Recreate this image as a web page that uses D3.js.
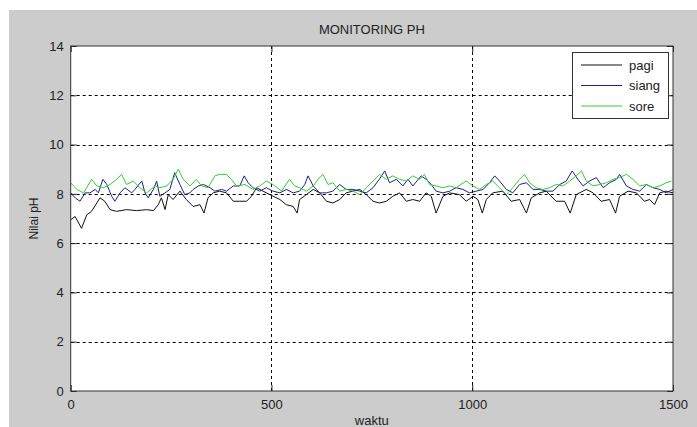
<!DOCTYPE html>
<html>
<head>
<meta charset="utf-8">
<script src="https://cdn.jsdelivr.net/npm/d3@7"></script>
<style>
  html, body { margin: 0; padding: 0; background: #fff; }
  svg { display: block; font-family: "Liberation Sans", Arial, sans-serif; }
</style>
</head>
<body>
<div id="chart"></div>
<script>
// grafik monitoring pH: pagi, siang, sore
const xTicks = [0, 500, 1000, 1500];
const yTicks = [0, 2, 4, 6, 8, 10, 12, 14];
const seriesNames = ["pagi", "siang", "sore"];

const pagiT = [0, 11, 27, 40, 52, 65, 73, 85, 98, 114, 139, 164, 189, 206, 218, 226, 235, 243, 255, 272, 288, 305, 322, 332, 342, 355, 371, 388, 405, 421, 438, 450, 463, 479, 496, 521, 537, 554, 564, 570, 587, 604, 620, 637, 653, 670, 686, 703, 720, 736, 753, 769,
  786, 802, 819, 836, 852, 869, 885, 898, 910, 927, 944, 968, 985, 1002, 1014, 1025, 1035, 1051, 1076, 1097, 1118, 1135, 1147, 1168, 1184, 1209, 1230, 1244, 1259, 1284, 1301, 1321, 1342, 1357, 1367, 1388, 1409, 1429, 1442, 1454, 1467, 1483, 1500];
const pagiPH = [6.95, 7.08, 6.60, 7.15, 7.29, 7.63, 7.84, 7.70, 7.36, 7.29, 7.36, 7.32, 7.36, 7.32, 7.56, 7.84, 7.36, 7.97, 7.77, 8.11, 7.77, 7.49, 7.56, 7.22, 7.84, 8.04, 8.11, 8.04, 7.70, 7.70, 7.70, 7.90, 8.25, 8.11, 7.97, 7.77, 7.56, 7.49, 7.22, 7.77, 7.97, 8.18, 8.04, 7.70, 7.63, 7.77, 8.04, 8.11, 8.18, 7.97, 7.70, 7.63,
  7.70, 7.90, 8.04, 7.70, 7.77, 7.70, 8.04, 7.90, 7.22, 7.90, 8.04, 7.97, 7.70, 7.90, 7.77, 7.22, 7.77, 8.04, 8.11, 7.70, 7.77, 7.22, 7.84, 8.04, 8.11, 7.70, 7.70, 7.22, 7.97, 8.18, 8.04, 7.70, 7.77, 7.22, 7.90, 8.11, 8.04, 7.70, 7.77, 7.56, 8.04, 8.11, 8.04];

const siangT = [0, 11, 23, 36, 48, 61, 69, 80, 90, 102, 110, 123, 135, 152, 160, 177, 185, 193, 206, 214, 222, 235, 247, 259, 272, 284, 297, 305, 318, 330, 347, 359, 376, 388, 405, 421, 432, 442, 454, 471, 487, 504, 521, 537, 554, 570, 583, 591, 604, 620, 637, 653, 670, 686, 703, 720, 736, 753, 769,
  782, 794, 811, 827, 840, 852, 873, 885, 898, 910, 927, 944, 960, 977, 993, 1010, 1027, 1043, 1056, 1068, 1085, 1101, 1118, 1135, 1151, 1168, 1184, 1201, 1218, 1234, 1249, 1263, 1276, 1292, 1309, 1326, 1342, 1359, 1367, 1384, 1400, 1417, 1434, 1450, 1467, 1483, 1500];
const siangPH = [8.04, 7.84, 7.70, 8.04, 8.04, 8.18, 8.04, 8.59, 8.38, 7.90, 7.70, 8.04, 8.25, 8.04, 8.18, 8.52, 8.04, 7.84, 8.18, 8.52, 7.90, 8.04, 8.18, 8.86, 8.38, 7.97, 8.04, 8.18, 8.32, 8.38, 8.25, 8.11, 8.18, 8.11, 8.32, 8.32, 8.73, 8.45, 8.25, 8.11, 8.25, 8.11, 8.04, 8.18, 8.04, 8.11, 8.38, 8.73, 8.32, 8.04, 8.04, 8.11, 8.38, 8.18, 8.18, 8.11, 8.04, 8.25, 8.60,
  8.93, 8.45, 8.59, 8.32, 8.59, 8.32, 8.73, 8.59, 8.38, 8.11, 8.04, 8.11, 8.25, 8.18, 8.04, 8.11, 8.18, 8.45, 8.73, 8.52, 8.18, 8.04, 8.38, 8.45, 8.18, 8.18, 8.11, 8.11, 8.38, 8.52, 8.93, 8.59, 8.32, 8.52, 8.66, 8.25, 8.45, 8.59, 8.79, 8.32, 8.18, 8.11, 8.38, 8.25, 8.18, 8.04, 8.18];

const soreT = [0, 15, 32, 52, 65, 81, 98, 114, 127, 139, 156, 172, 189, 210, 222, 239, 255, 268, 280, 297, 313, 326, 342, 359, 371, 388, 400, 413, 434, 454, 471, 487, 504, 525, 545, 558, 570, 587, 604, 616, 628, 641, 653, 670, 686, 703, 720, 736, 753, 769,
  786, 802, 819, 836, 852, 869, 881, 894, 910, 927, 944, 960, 985, 1002, 1018, 1035, 1051, 1068, 1085, 1101, 1118, 1130, 1143, 1159, 1176, 1193, 1209, 1226, 1243, 1259, 1272, 1284, 1301, 1317, 1334, 1351, 1367, 1384, 1400, 1417, 1434, 1450, 1467, 1483, 1496];
const sorePH = [8.45, 8.18, 8.04, 8.59, 8.32, 8.25, 8.38, 8.59, 8.79, 8.38, 8.52, 8.25, 8.04, 8.32, 8.25, 8.32, 8.59, 9.00, 8.59, 8.32, 8.59, 8.32, 8.25, 8.73, 8.79, 8.79, 8.59, 8.32, 8.38, 8.18, 8.32, 8.52, 8.38, 8.11, 8.59, 8.32, 8.25, 8.11, 8.32, 8.59, 8.79, 8.38, 8.45, 8.11, 8.18, 8.11, 7.97, 8.25, 8.52, 8.79,
  8.59, 8.73, 8.59, 8.52, 8.73, 8.59, 8.79, 8.38, 8.32, 8.25, 8.32, 8.25, 8.52, 8.32, 8.18, 8.38, 8.52, 8.25, 7.97, 8.25, 8.59, 8.79, 8.45, 8.25, 8.18, 8.25, 8.38, 8.32, 8.52, 8.73, 8.93, 8.52, 8.32, 8.38, 8.45, 8.59, 8.66, 8.79, 8.59, 8.32, 8.38, 8.25, 8.32, 8.45, 8.52];

const colors = { pagi: "#111111", siang: "#1f1f86", sore: "#2fd02f" };

const W = 697, H = 427;
const plot = { left: 70.7, right: 673, top: 46, bottom: 391 };

const svg = d3.select("#chart").append("svg").attr("width", W).attr("height", H);

// latar abu-abu ala figure matlab
svg.append("rect").attr("x", 9).attr("y", 10).attr("width", W - 9).attr("height", H - 10).attr("fill", "#cccccc");
svg.append("rect")
  .attr("x", plot.left).attr("y", plot.top)
  .attr("width", plot.right - plot.left).attr("height", plot.bottom - plot.top)
  .attr("fill", "#fff");

const x = d3.scaleLinear().domain([0, 1500]).range([plot.left, plot.right]);
const y = d3.scaleLinear().domain([0, 14]).range([plot.bottom, plot.top]);

// grid titik-titik
const grid = svg.append("g").attr("stroke", "#000").attr("stroke-dasharray", "3,3").attr("stroke-width", 1);
grid.selectAll("line.gy").data(yTicks.filter((t) => t > 0 && t < 14)).join("line")
  .attr("x1", plot.left).attr("x2", plot.right)
  .attr("y1", (d) => Math.round(y(d)) + 0.5).attr("y2", (d) => Math.round(y(d)) + 0.5);
grid.selectAll("line.gx").data(xTicks.filter((t) => t > 0 && t < 1500)).join("line")
  .attr("y1", plot.top).attr("y2", plot.bottom)
  .attr("x1", (d) => Math.round(x(d)) + 0.5).attr("x2", (d) => Math.round(x(d)) + 0.5);

// garis data
const line = d3.line().x((d) => x(d[0])).y((d) => y(d[1]));
const series = [
  { name: "pagi", pts: d3.zip(pagiT, pagiPH) },
  { name: "siang", pts: d3.zip(siangT, siangPH) },
  { name: "sore", pts: d3.zip(soreT, sorePH) },
];
svg.append("g").selectAll("path").data(series).join("path")
  .attr("d", (s) => line(s.pts))
  .attr("fill", "none")
  .attr("stroke", (s) => colors[s.name])
  .attr("stroke-width", 1)
  .attr("stroke-linejoin", "round");

// sumbu dengan tick ke dalam
const tickLen = 6;
const fmt = d3.format("d");
const axL = svg.append("g").attr("transform", `translate(${plot.left},0)`)
  .call(d3.axisLeft(y).tickValues(yTicks).tickSize(-tickLen).tickPadding(7).tickFormat(fmt));
const axB = svg.append("g").attr("transform", `translate(0,${plot.bottom})`)
  .call(d3.axisBottom(x).tickValues(xTicks).tickSize(-tickLen).tickPadding(9).tickFormat(fmt));
const axR = svg.append("g").attr("transform", `translate(${plot.right},0)`)
  .call(d3.axisRight(y).tickValues(yTicks).tickSize(-tickLen).tickFormat(""));
const axT = svg.append("g").attr("transform", `translate(0,${plot.top})`)
  .call(d3.axisTop(x).tickValues(xTicks).tickSize(-tickLen).tickFormat(""));
for (const ax of [axL, axB, axR, axT]) {
  ax.select(".domain").remove();
  ax.selectAll("line").attr("stroke", "#222");
  ax.selectAll("text").attr("fill", "#222").style("font-size", "13px").style("font-family", "'Liberation Sans', Arial, sans-serif");
}

svg.append("rect")
  .attr("x", plot.left).attr("y", plot.top)
  .attr("width", plot.right - plot.left).attr("height", plot.bottom - plot.top)
  .attr("fill", "none").attr("stroke", "#333").attr("stroke-width", 1);

// judul dan label
svg.append("text").attr("x", (plot.left + plot.right) / 2).attr("y", 34)
  .attr("text-anchor", "middle").attr("font-size", 13).attr("fill", "#222").text("MONITORING PH");
svg.append("text").attr("x", (plot.left + plot.right) / 2).attr("y", 425)
  .attr("text-anchor", "middle").attr("font-size", 13).attr("fill", "#222").text("waktu");
svg.append("text").attr("transform", `translate(38,${(plot.top + plot.bottom) / 2}) rotate(-90)`)
  .attr("text-anchor", "middle").attr("font-size", 12).attr("fill", "#222").text("Nilai pH");

// legenda
const lg = svg.append("g").attr("transform", "translate(572.5,52.5)");
lg.append("rect").attr("width", 96).attr("height", 66).attr("fill", "#fff").attr("stroke", "#333");
const rows = lg.selectAll("g").data(seriesNames).join("g")
  .attr("transform", (d, i) => `translate(0,${12.5 + i * 20.5})`);
rows.append("line").attr("x1", 8.5).attr("x2", 49.5).attr("stroke", (d) => colors[d]).attr("stroke-width", 1);
rows.append("text").attr("x", 56.5).attr("y", 4.5).attr("font-size", 13).attr("fill", "#222").text((d) => d);
</script>
</body>
</html>
